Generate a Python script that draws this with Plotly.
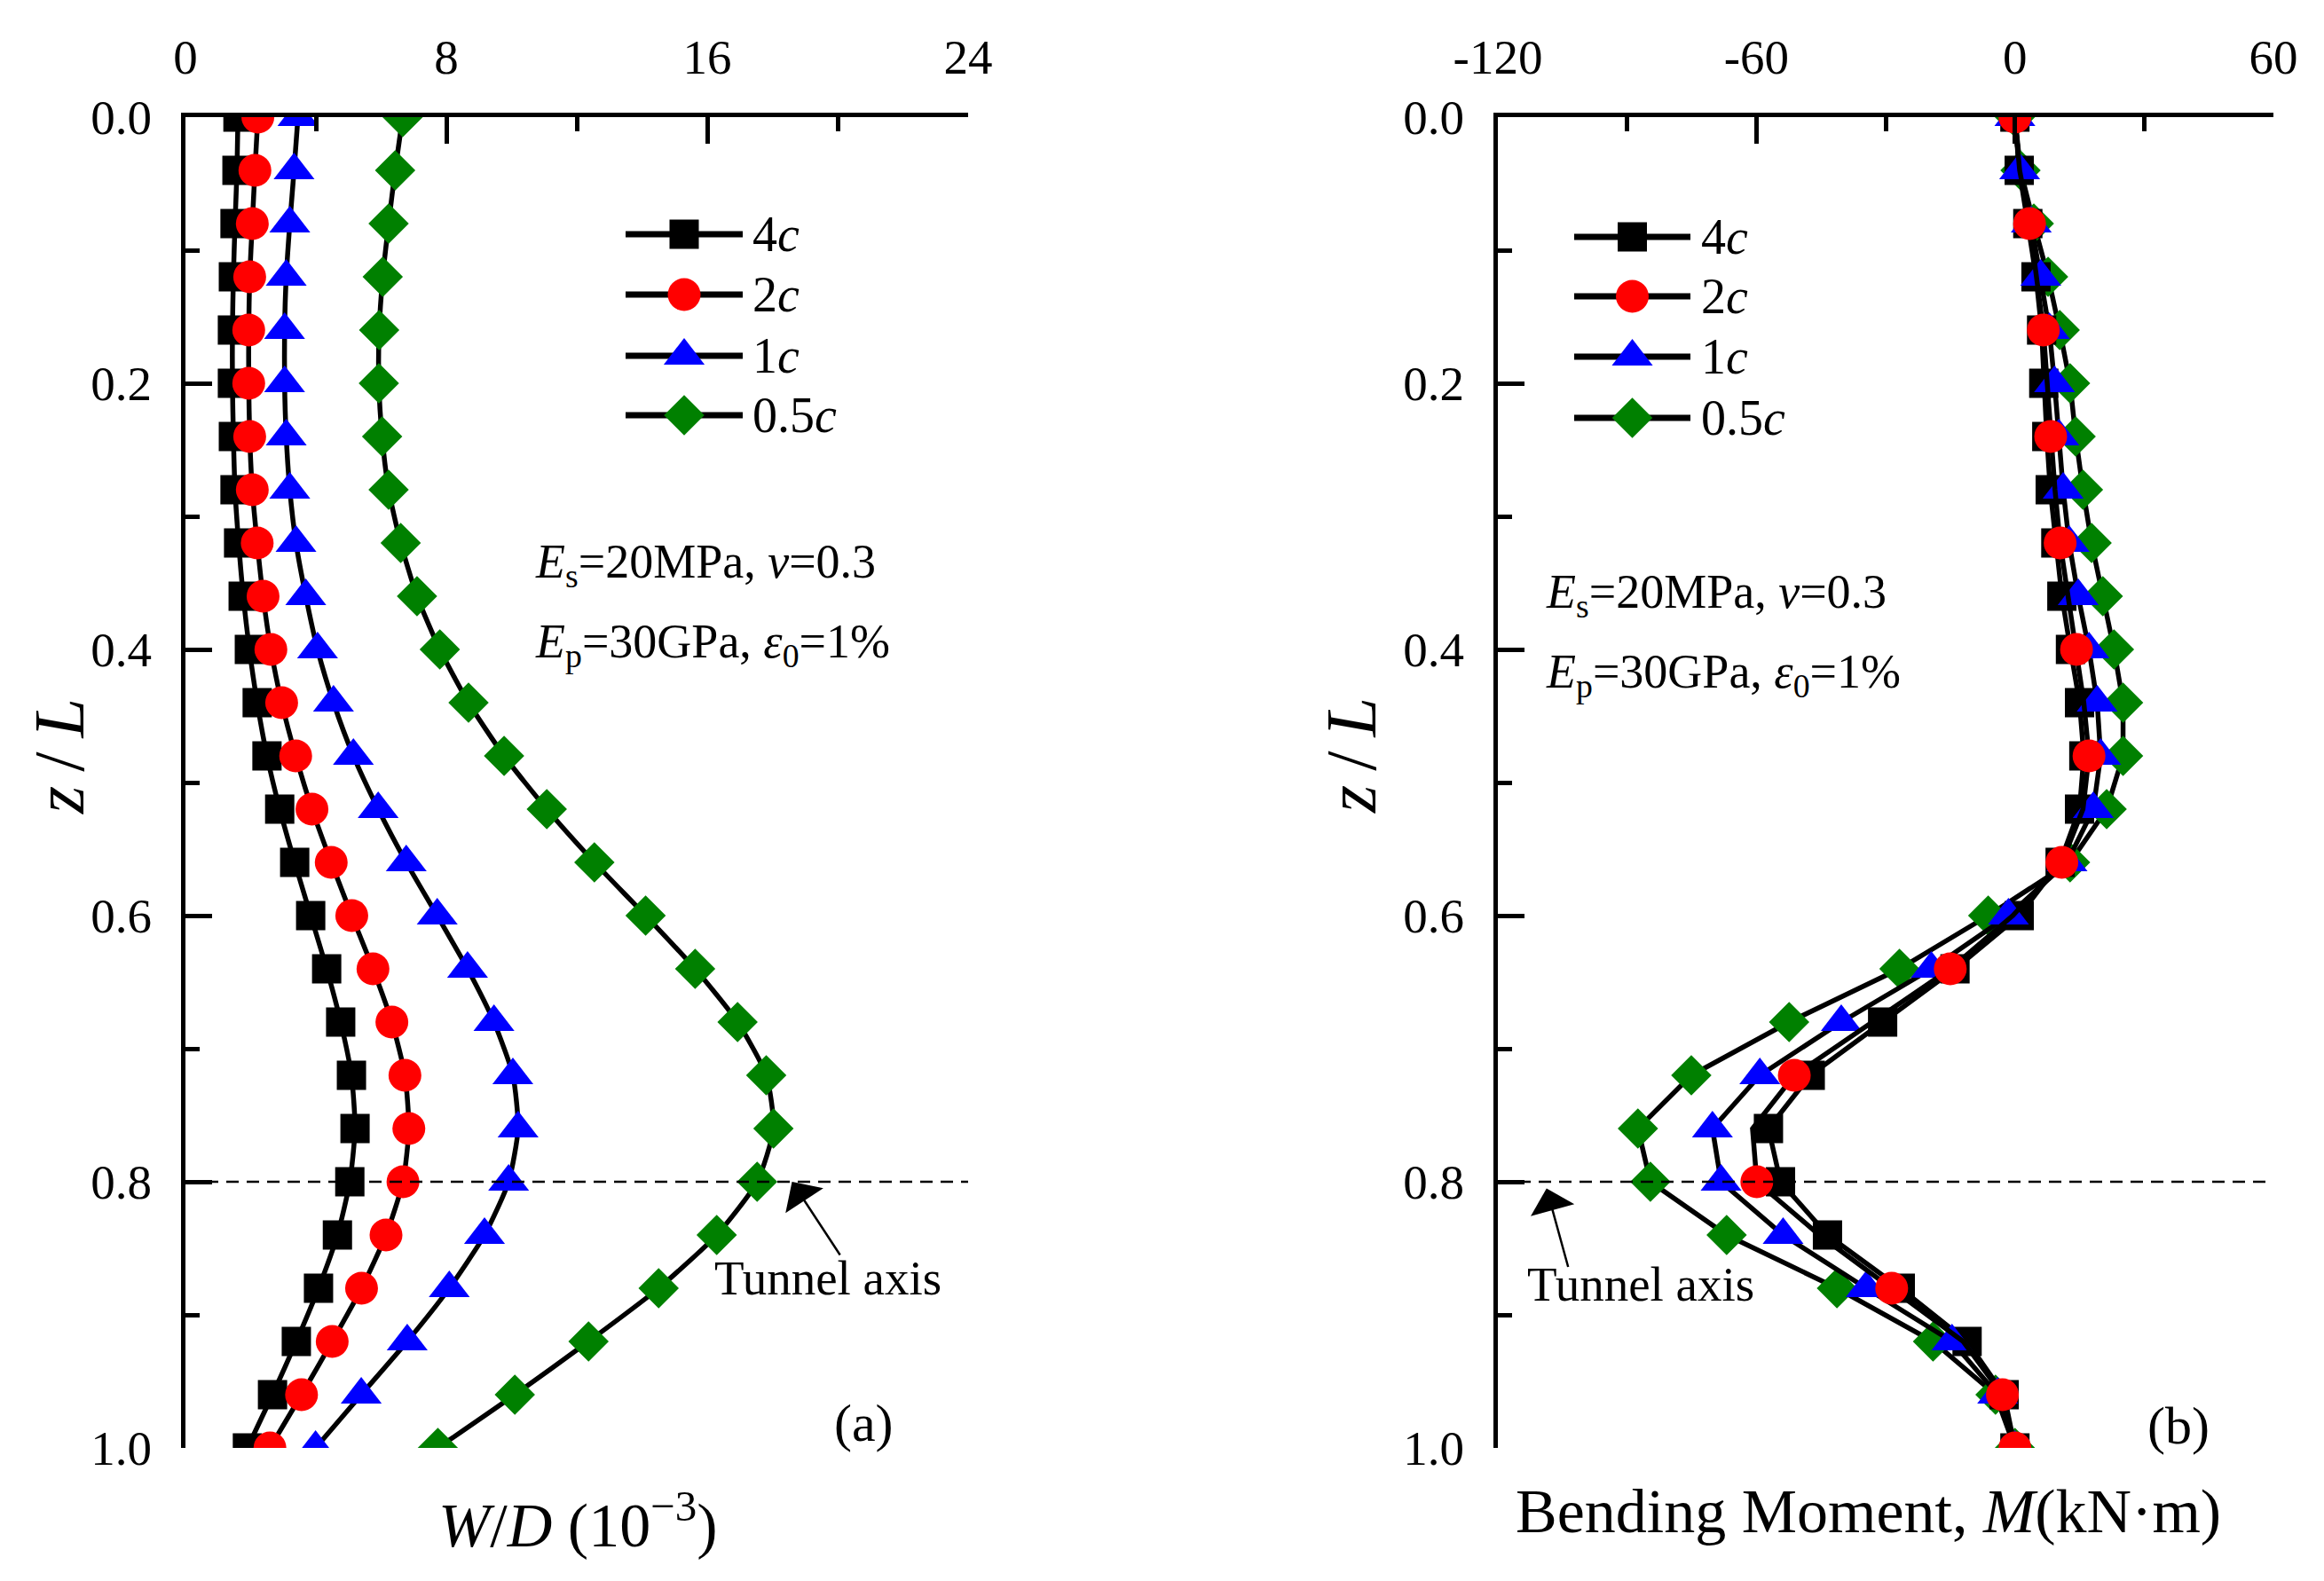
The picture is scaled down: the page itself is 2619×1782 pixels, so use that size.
import plotly.graph_objects as go

# ---------------- data ----------------
Z = [0.00, 0.04, 0.08, 0.12, 0.16, 0.20, 0.24, 0.28, 0.32, 0.36, 0.40, 0.44, 0.48,
     0.52, 0.56, 0.60, 0.64, 0.68, 0.72, 0.76, 0.80, 0.84, 0.88, 0.92, 0.96, 1.00]

# (a) settlement W/D (1e-3)
W_4C = [1.61, 1.58, 1.52, 1.47, 1.44, 1.44, 1.47, 1.52, 1.63, 1.77, 1.96, 2.20, 2.50,
        2.89, 3.35, 3.84, 4.33, 4.76, 5.09, 5.20, 5.04, 4.66, 4.08, 3.40, 2.67, 1.90]
W_2C = [2.22, 2.13, 2.05, 1.97, 1.94, 1.94, 1.97, 2.05, 2.20, 2.38, 2.62, 2.95, 3.38,
        3.88, 4.47, 5.10, 5.75, 6.33, 6.73, 6.85, 6.67, 6.15, 5.40, 4.50, 3.56, 2.59]
W_1C = [3.45, 3.33, 3.20, 3.09, 3.04, 3.04, 3.09, 3.20, 3.39, 3.69, 4.05, 4.54, 5.15,
        5.91, 6.77, 7.72, 8.65, 9.46, 10.04, 10.20, 9.91, 9.17, 8.09, 6.80, 5.39, 3.99]
W_05C = [6.66, 6.43, 6.23, 6.05, 5.94, 5.93, 6.03, 6.23, 6.60, 7.10, 7.80, 8.68, 9.77,
         11.08, 12.54, 14.11, 15.63, 16.93, 17.81, 18.03, 17.53, 16.29, 14.51, 12.36, 10.10, 7.74]

# (b) bending moment M (kN·m)
M_4C = [0.0, 1.0, 3.0, 4.9, 6.2, 6.7, 7.4, 8.2, 9.5, 10.9, 12.9, 15.0, 16.0,
        15.0, 10.5, 1.0, -13.9, -30.7, -47.5, -57.2, -54.4, -43.5, -26.6, -11.1, -2.5, 0.0]
M_2C = [0.0, 1.1, 3.4, 5.0, 6.6, 7.5, 8.3, 9.3, 10.5, 12.3, 14.3, 16.0, 17.2,
        15.8, 10.9, -0.5, -15.0, -33.0, -51.2, -60.9, -59.9, -45.4, -28.6, -12.0, -2.9, 0.0]
M_1C = [0.0, 1.1, 3.8, 6.0, 8.0, 9.2, 10.2, 11.2, 12.6, 14.7, 17.2, 19.1, 19.9,
        18.2, 12.1, -1.5, -19.4, -40.3, -59.2, -70.2, -68.2, -53.8, -34.5, -14.6, -4.0, 0.0]
M_05C = [0.0, 1.3, 4.4, 7.7, 10.4, 12.8, 14.1, 15.8, 17.8, 20.4, 23.0, 25.1, 25.1,
         21.3, 12.8, -6.2, -26.8, -52.4, -75.1, -87.5, -84.6, -66.9, -41.3, -19.0, -4.5, 0.0]

SERIES_NAMES = ["4<i>c</i>", "2<i>c</i>", "1<i>c</i>", "0.5<i>c</i>"]

X1_TICKS = [0, 8, 16, 24]
X1_TICKTEXT = ["0", "8", "16", "24"]
X2_TICKS = [-120, -60, 0, 60]
X2_TICKTEXT = ["-120", "-60", "0", "60"]
Y_TICKS = [0.0, 0.2, 0.4, 0.6, 0.8, 1.0]
Y_TICKTEXT = ["0.0", "0.2", "0.4", "0.6", "0.8", "1.0"]
TUNNEL_Z = 0.8

# ---------------- styles / layout ----------------
FIG_W, FIG_H = 2619, 1782
PAGE_OFF = 8  # browser body margin
FONT = "Liberation Serif"


def px_x(p):
    return (p - PAGE_OFF) / FIG_W


def px_y(p):
    return 1 - (p - PAGE_OFF) / FIG_H


LEFT_DOM_X = [px_x(209), px_x(1091)]
RIGHT_DOM_X = [px_x(1688), px_x(2562)]
DOM_Y = [px_y(1632), px_y(132)]

STYLES = [
    dict(color="black", symbol="square", size=33),
    dict(color="red", symbol="circle", size=37),
    dict(color="blue", symbol="triangle-up", size=40),
    dict(color="green", symbol="diamond", size=35),
]
LINE_W = 5.5

fig = go.Figure()

LEFT = [W_4C, W_2C, W_1C, W_05C]
RIGHT = [M_4C, M_2C, M_1C, M_05C]
ORDER = [3, 0, 2, 1]

for i in ORDER:
    st = STYLES[i]
    fig.add_trace(go.Scatter(
        x=LEFT[i], y=Z, mode="lines+markers", xaxis="x", yaxis="y",
        line=dict(color="black", width=LINE_W, shape="spline", smoothing=0.6),
        marker=dict(color=st["color"], symbol=st["symbol"], size=st["size"],
                    opacity=1, line=dict(width=0)),
        showlegend=False, hoverinfo="skip"))

for i in ORDER:
    st = STYLES[i]
    sizes = st["size"]
    if i == 1:  # 2c markers shown on every other point in panel (b)
        sizes = [st["size"] if (k % 2 == 0 or k == len(Z) - 1) else 0 for k in range(len(Z))]
    fig.add_trace(go.Scatter(
        x=RIGHT[i], y=Z, mode="lines+markers", xaxis="x2", yaxis="y2",
        line=dict(color="black", width=LINE_W),
        marker=dict(color=st["color"], symbol=st["symbol"], size=sizes,
                    opacity=1, line=dict(width=0)),
        showlegend=False, hoverinfo="skip"))

# custom legends on a helper paper-like axis
LEGENDS = [
    dict(x0=705, x1=837, tx=846, rows=[264, 332, 401, 468]),
    dict(x0=1774, x1=1905, tx=1915, rows=[267, 334, 402, 471]),
]
annotations = []
for lg in LEGENDS:
    for i, row in enumerate(lg["rows"]):
        st = STYLES[i]
        yy = px_y(row)
        fig.add_trace(go.Scatter(
            x=[px_x(lg["x0"]), px_x(lg["x1"])], y=[yy, yy], mode="lines",
            xaxis="x3", yaxis="y3", line=dict(color="black", width=7),
            showlegend=False, hoverinfo="skip"))
        fig.add_trace(go.Scatter(
            x=[px_x((lg["x0"] + lg["x1"]) / 2)], y=[yy], mode="markers",
            xaxis="x3", yaxis="y3",
            marker=dict(color=st["color"], symbol=st["symbol"], size=st["size"],
                        opacity=1, line=dict(width=0)),
            showlegend=False, hoverinfo="skip"))
        annotations.append(dict(
            x=px_x(lg["tx"]), y=yy, xref="paper", yref="paper", text=SERIES_NAMES[i],
            showarrow=False, xanchor="left", yanchor="middle",
            font=dict(family=FONT, size=56, color="black")))

TXT = dict(family=FONT, size=54, color="black")
for xr, yr, xv, y1, y2 in [("x", "y", 10.67, 0.336, 0.396), ("x2", "y2", -109.3, 0.359, 0.419)]:
    annotations.append(dict(x=xv, y=y1, xref=xr, yref=yr, showarrow=False, xanchor="left",
                            yanchor="middle", font=TXT,
                            text="<i>E</i><sub>s</sub>=20MPa, <i>v</i>=0.3"))
    annotations.append(dict(x=xv, y=y2, xref=xr, yref=yr, showarrow=False, xanchor="left",
                            yanchor="middle", font=TXT,
                            text="<i>E</i><sub>p</sub>=30GPa, <i>ε</i><sub>0</sub>=1%"))

# tunnel axis arrows + labels
for xr, yr, tip, tail, lab in [("x", "y", (18.6, 0.800), (20.1, 0.856), (19.7, 0.872)),
                               ("x2", "y2", (-108.7, 0.805), (-103.6, 0.865), (-86.8, 0.877))]:
    annotations.append(dict(x=tip[0], y=tip[1], ax=tail[0], ay=tail[1], xref=xr, yref=yr,
                            axref=xr, ayref=yr, showarrow=True, arrowhead=1, arrowsize=3.4,
                            arrowwidth=2.5, arrowcolor="black", text=""))
    annotations.append(dict(x=lab[0], y=lab[1], xref=xr, yref=yr, showarrow=False,
                            xanchor="center", yanchor="middle", text="Tunnel axis",
                            font=dict(family=FONT, size=55, color="black")))

annotations.append(dict(x=20.8, y=0.981, xref="x", yref="y", showarrow=False, text="(a)",
                        font=dict(family=FONT, size=60, color="black")))
annotations.append(dict(x=38.0, y=0.983, xref="x2", yref="y2", showarrow=False, text="(b)",
                        font=dict(family=FONT, size=60, color="black")))

TITLE = dict(family=FONT, size=70, color="black")
annotations.append(dict(x=px_x(651), y=px_y(1714), xref="paper", yref="paper", showarrow=False,
                        text="<i>W</i>/<i>D</i> (10<sup>−3</sup>)", font=TITLE,
                        xanchor="center", yanchor="middle"))
annotations.append(dict(x=px_x(2105), y=px_y(1703), xref="paper", yref="paper", showarrow=False,
                        text="Bending Moment, <i>M</i>(kN·m)", font=TITLE,
                        xanchor="center", yanchor="middle"))
for xc in [67, 1523]:
    annotations.append(dict(x=px_x(xc), y=px_y(852), xref="paper", yref="paper", showarrow=False,
                            text="<i>z</i>\u2009/\u2009<i>L</i>",
                            font=dict(family=FONT, size=80, color="black"), textangle=-90,
                            xanchor="center", yanchor="middle"))

shapes = []
for xr, yr in [("x domain", "y"), ("x2 domain", "y2")]:
    shapes.append(dict(type="line", xref=xr, yref=yr, x0=0, x1=1, y0=TUNNEL_Z, y1=TUNNEL_Z,
                       line=dict(color="black", width=2.5, dash="14px,9px")))

TICKFONT = dict(family=FONT, size=55, color="black")


def xax(dom, rng, tv, tt, mdt, anchor):
    return dict(domain=dom, range=rng, anchor=anchor, side="top", tickmode="array",
                tickvals=tv, ticktext=tt, ticks="inside", ticklen=30, tickwidth=5,
                tickcolor="black", showline=True, linewidth=5, linecolor="black",
                showgrid=False, zeroline=False, tickfont=TICKFONT, ticklabelstandoff=22,
                automargin=False,
                minor=dict(tickmode="linear", tick0=0, dtick=mdt, ticks="inside", ticklen=16,
                           tickwidth=5, tickcolor="black", showgrid=False))


def yax(anchor):
    return dict(domain=DOM_Y, range=[1, 0], anchor=anchor, tickmode="array", tickvals=Y_TICKS,
                ticktext=Y_TICKTEXT, ticks="inside", ticklen=30, tickwidth=5, tickcolor="black",
                showline=True, linewidth=5, linecolor="black", showgrid=False, zeroline=False,
                tickfont=TICKFONT, ticklabelstandoff=22, automargin=False,
                minor=dict(tickmode="linear", tick0=0, dtick=0.1, ticks="inside", ticklen=16,
                           tickwidth=5, tickcolor="black", showgrid=False))


fig.update_layout(
    width=FIG_W, height=FIG_H, margin=dict(l=0, r=0, t=0, b=0, autoexpand=False),
    paper_bgcolor="white", plot_bgcolor="rgba(0,0,0,0)", showlegend=False,
    xaxis=xax(LEFT_DOM_X, [0, 24], X1_TICKS, X1_TICKTEXT, 4, "y"),
    yaxis=yax("x"),
    xaxis2=xax(RIGHT_DOM_X, [-120, 60], X2_TICKS, X2_TICKTEXT, 30, "y2"),
    yaxis2=yax("x2"),
    xaxis3=dict(domain=[0, 1], range=[0, 1], anchor="y3", visible=False, fixedrange=True,
                automargin=False),
    yaxis3=dict(domain=[0, 1], range=[0, 1], anchor="x3", visible=False, fixedrange=True,
                automargin=False),
    annotations=annotations, shapes=shapes,
)

fig.write_html("out.html")
